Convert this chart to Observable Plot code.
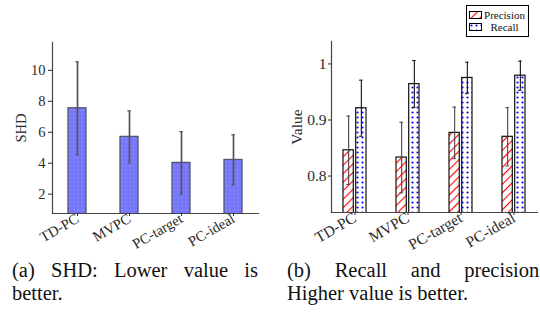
<!DOCTYPE html>
<html><head><meta charset="utf-8">
<script src="https://cdn.jsdelivr.net/npm/d3@7"></script>
<script src="https://cdn.jsdelivr.net/npm/@observablehq/plot@0.6"></script>
<style>
body{margin:0;background:#fff;overflow:hidden;}
#wrap{position:relative;width:540px;height:324px;overflow:hidden;background:#fff;}
#wrap > svg.plot{position:absolute;top:0;}
.cap{position:absolute;font-family:"Liberation Serif",serif;font-size:20.5px;line-height:23px;text-align:justify;color:#111;}
#legend{position:absolute;left:466px;top:5px;width:63px;height:32px;border:1px solid #000;box-sizing:border-box;font-family:"Liberation Serif",serif;font-size:11px;color:#111;background:#fff;}
#legend .t{position:absolute;left:15px;width:45px;text-align:center;line-height:12px;}
</style></head><body>
<svg width="0" height="0" style="position:absolute">
<defs>
<pattern id="shdDots" width="4" height="4" patternUnits="userSpaceOnUse">
<rect width="4" height="4" fill="#7676fc"/><circle cx="2" cy="2" r="0.8" fill="#9696ff"/></pattern>
<pattern id="neLines" width="6" height="6" patternUnits="userSpaceOnUse" patternTransform="rotate(45)">
<rect width="6" height="6" fill="#fff"/><line x1="0.6" y1="0" x2="0.6" y2="6" stroke="#ff0000" stroke-width="1.1"/></pattern>
<pattern id="blueDots" width="5" height="5" patternUnits="userSpaceOnUse">
<rect width="5" height="5" fill="#fff"/><circle cx="2.5" cy="2.5" r="1.1" fill="#0000ff"/></pattern>
</defs></svg>
<div id="wrap">
  <div id="legend">
    <svg style="position:absolute;left:2px;top:5px" width="13" height="8"><rect x="0.5" y="0.5" width="12" height="7" fill="url(#neLines)" stroke="#000"/></svg>
    <div class="t" style="top:3px">Precision</div>
    <svg style="position:absolute;left:2px;top:17px" width="13" height="8"><rect x="0.5" y="0.5" width="12" height="7" fill="url(#blueDots)" stroke="#000"/></svg>
    <div class="t" style="top:15px">Recall</div>
  </div>
  <div class="cap" style="left:12px;top:259px;width:246px">(a) SHD: Lower value is better.</div>
  <div class="cap" style="left:287px;top:259px;width:258px">(b) Recall and precision: Higher value is better.</div>
</div>
<script>
const categories = ["TD-PC", "MVPC", "PC-target", "PC-ideal"];
const shdMean = [7.55, 5.70, 4.02, 4.21];
const shdErr = [3.00, 1.68, 2.02, 1.63];
const precisionMean = [0.846, 0.833, 0.877, 0.870];
const precisionErr = [0.061, 0.063, 0.046, 0.052];
const recallMean = [0.921, 0.964, 0.975, 0.979];
const recallErr = [0.050, 0.042, 0.028, 0.026];
const shdYDomain = [0.75, 11.8];
const valueYDomain = [0.735, 1.04];
const shdTicks = [2, 4, 6, 8, 10];
const valueTicks = [0.8, 0.9, 1];

const rows = (m, e) => categories.map((c, i) => ({cat: c, mean: m[i], lo: m[i] - e[i], hi: m[i] + e[i]}));
const shd = rows(shdMean, shdErr);
const prec = rows(precisionMean, precisionErr);
const rec = rows(recallMean, recallErr);

const baseStyle = {fontFamily: "Liberation Serif, serif", color: "#2a2a2a", background: "transparent", overflow: "visible"};

const left = Plot.plot({
  width: 270, height: 250,
  marginLeft: 52, marginRight: 12, marginTop: 42, marginBottom: 37,
  style: {...baseStyle, fontSize: "14.5px"},
  x: {domain: categories, paddingInner: 0.647, paddingOuter: 0.27},
  y: {domain: shdYDomain},
  marks: [
    Plot.barY(shd, {x: "cat", y: "mean", fill: "url(#shdDots)", stroke: "#55556a", strokeWidth: 1.3, clip: true}),
    Plot.ruleX(shd, {x: "cat", y1: "lo", y2: "hi", stroke: "#555", strokeWidth: 1.7}),
    Plot.tickY(shd, {x: "cat", y: "lo", stroke: "#555", strokeWidth: 1.2, insetLeft: 7.3, insetRight: 7.3}),
    Plot.tickY(shd, {x: "cat", y: "hi", stroke: "#555", strokeWidth: 1.2, insetLeft: 7.3, insetRight: 7.3}),
    Plot.frame({anchor: "left", stroke: "#444", strokeWidth: 1.2}),
    Plot.frame({anchor: "bottom", stroke: "#444", strokeWidth: 1.2}),
    Plot.axisY({ticks: shdTicks, tickSize: 4, tickPadding: 3, label: "SHD", labelAnchor: "center", labelArrow: "none", labelOffset: 37}),
    Plot.axisX({tickSize: 3, tickPadding: 1, tickRotate: -30, label: null})
  ]
});
left.classList.add("plot");
left.style.left = "0px";

const right = Plot.plot({
  width: 270, height: 250,
  marginLeft: 61, marginRight: 3, marginTop: 41, marginBottom: 38,
  style: {...baseStyle, fontSize: "15.5px"},
  x: {domain: categories, paddingInner: 0.56, paddingOuter: 0.21},
  y: {domain: valueYDomain},
  marks: [
    Plot.barY(prec, {x: "cat", y: "mean", fill: "url(#neLines)", stroke: "#111", strokeWidth: 1.2, insetRight: 12.7, clip: true}),
    Plot.barY(rec, {x: "cat", y: "mean", fill: "url(#blueDots)", stroke: "#111", strokeWidth: 1.2, insetLeft: 12.7, clip: true}),
    Plot.ruleX(prec, {x: "cat", y1: "lo", y2: "hi", dx: -6.35, stroke: "#444", strokeWidth: 1.1}),
    Plot.tickY(prec, {x: "cat", y: "lo", dx: -6.35, stroke: "#444", insetLeft: 9.7, insetRight: 9.7}),
    Plot.tickY(prec, {x: "cat", y: "hi", dx: -6.35, stroke: "#444", insetLeft: 9.7, insetRight: 9.7}),
    Plot.ruleX(rec, {x: "cat", y1: "lo", y2: "hi", dx: 6.35, stroke: "#111", strokeWidth: 1.1}),
    Plot.tickY(rec, {x: "cat", y: "lo", dx: 6.35, stroke: "#111", insetLeft: 9.7, insetRight: 9.7}),
    Plot.tickY(rec, {x: "cat", y: "hi", dx: 6.35, stroke: "#111", insetLeft: 9.7, insetRight: 9.7}),
    Plot.frame({anchor: "left", stroke: "#444", strokeWidth: 1.2}),
    Plot.frame({anchor: "bottom", stroke: "#444", strokeWidth: 1.2}),
    Plot.axisY({ticks: valueTicks, tickFormat: d => String(d), tickSize: 3, tickPadding: 2, label: "Value", labelAnchor: "center", labelArrow: "none", labelOffset: 41}),
    Plot.axisX({tickSize: 3, tickPadding: 1, tickRotate: -30, label: null})
  ]
});
right.classList.add("plot");
right.style.left = "270px";

const wrap = document.getElementById("wrap");
wrap.insertBefore(right, wrap.firstChild);
wrap.insertBefore(left, wrap.firstChild);
</script>
</body></html>
